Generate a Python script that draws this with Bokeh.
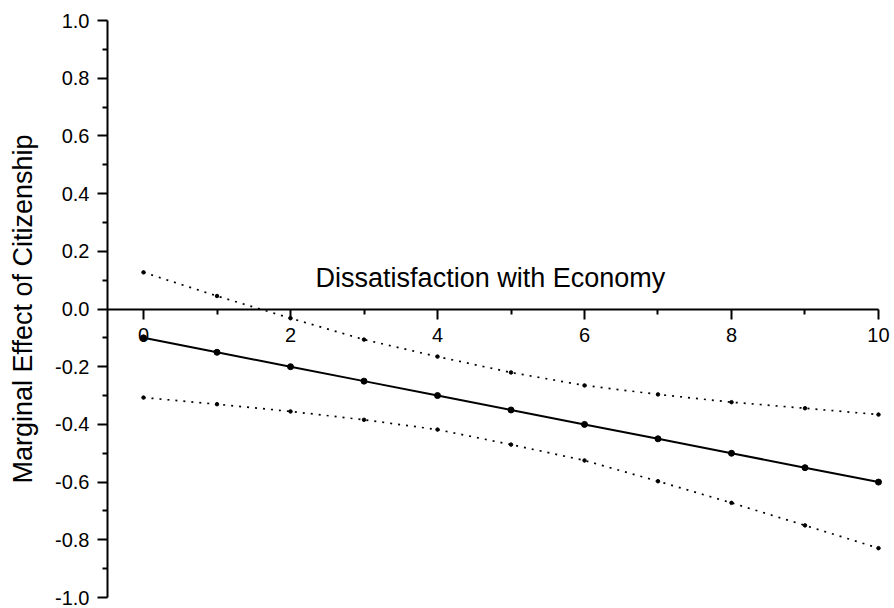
import math
from bokeh.plotting import figure
from bokeh.models import (Range1d, LinearAxis, FixedTicker, PrintfTickFormatter, Label)
from bokeh.embed import file_html
from bokeh.resources import INLINE

# Data
x_vals = [0, 1, 2, 3, 4, 5, 6, 7, 8, 9, 10]
effect = [-0.10, -0.15, -0.20, -0.25, -0.30, -0.35, -0.40, -0.45, -0.50, -0.55, -0.60]
upper_ci = [0.127, 0.045, -0.032, -0.106, -0.165, -0.220, -0.265, -0.296, -0.323, -0.344, -0.366]
lower_ci = [-0.307, -0.330, -0.355, -0.384, -0.418, -0.470, -0.525, -0.597, -0.672, -0.750, -0.829]

x_major_ticks = [0, 2, 4, 6, 8, 10]
x_minor_ticks = [1, 3, 5, 7, 9]
y_major_ticks = [-1.0, -0.8, -0.6, -0.4, -0.2, 0.0, 0.2, 0.4, 0.6, 0.8, 1.0]
y_minor_ticks = [-0.9, -0.7, -0.5, -0.3, -0.1, 0.1, 0.3, 0.5, 0.7, 0.9]

x_title = "Dissatisfaction with Economy"
y_title = "Marginal Effect of Citizenship"

FONT = "Liberation Sans"

p = figure(width=892, height=608, output_backend="svg", toolbar_location=None,
           x_range=Range1d(-0.49, 10.177), y_range=Range1d(-1.0, 1.0),
           x_axis_location=None, y_axis_location="left",
           min_border_left=107, min_border_top=20, min_border_right=1, min_border_bottom=11)
p.outline_line_color = None
p.xgrid.visible = False
p.ygrid.visible = False
p.background_fill_color = "white"
p.border_fill_color = "white"

# Y axis
ya = p.yaxis[0]
ya.ticker = FixedTicker(ticks=y_major_ticks, minor_ticks=y_minor_ticks)
ya.formatter = PrintfTickFormatter(format="%.1f")
ya.axis_line_width = 2
ya.major_tick_line_width = 2
ya.minor_tick_line_width = 2
ya.major_tick_out = 10
ya.major_tick_in = 0
ya.minor_tick_out = 5
ya.minor_tick_in = 0
ya.major_label_standoff = 8
ya.major_label_text_font = FONT
ya.major_label_text_font_size = "20px"
ya.major_label_text_color = "black"
ya.axis_label = y_title
ya.axis_label_text_font = FONT
ya.axis_label_text_font_size = "27px"
ya.axis_label_text_font_style = "normal"
ya.axis_label_text_color = "black"
ya.axis_label_standoff = 14

# X axis crossing at y = 0, ending at x = 10
xa = LinearAxis(fixed_location=0, bounds=(-0.49, 10))
xa.ticker = FixedTicker(ticks=x_major_ticks, minor_ticks=x_minor_ticks)
xa.axis_line_width = 2
xa.major_tick_line_width = 2
xa.minor_tick_line_width = 2
xa.major_tick_out = 10
xa.major_tick_in = 0
xa.minor_tick_out = 5
xa.minor_tick_in = 0
xa.major_label_standoff = 9
xa.major_label_text_font = FONT
xa.major_label_text_font_size = "20px"
xa.major_label_text_color = "black"
p.add_layout(xa, "below")

# Lines
p.line(x_vals, upper_ci, line_color="black", line_width=1.7, line_dash="2 6")
p.line(x_vals, lower_ci, line_color="black", line_width=1.7, line_dash="2 6")
p.scatter(x_vals, upper_ci, size=3.5, color="black")
p.scatter(x_vals, lower_ci, size=3.5, color="black")
p.line(x_vals, effect, line_color="black", line_width=2)
p.scatter(x_vals, effect, size=6, color="black")

# Title of the x axis, drawn above the axis line
p.add_layout(Label(x=4.72, y=0.106, text=x_title, text_align="center", text_baseline="middle",
                   text_font=FONT, text_font_size="27px", text_color="black"))

open("out.html", "w").write(file_html(p, INLINE))
